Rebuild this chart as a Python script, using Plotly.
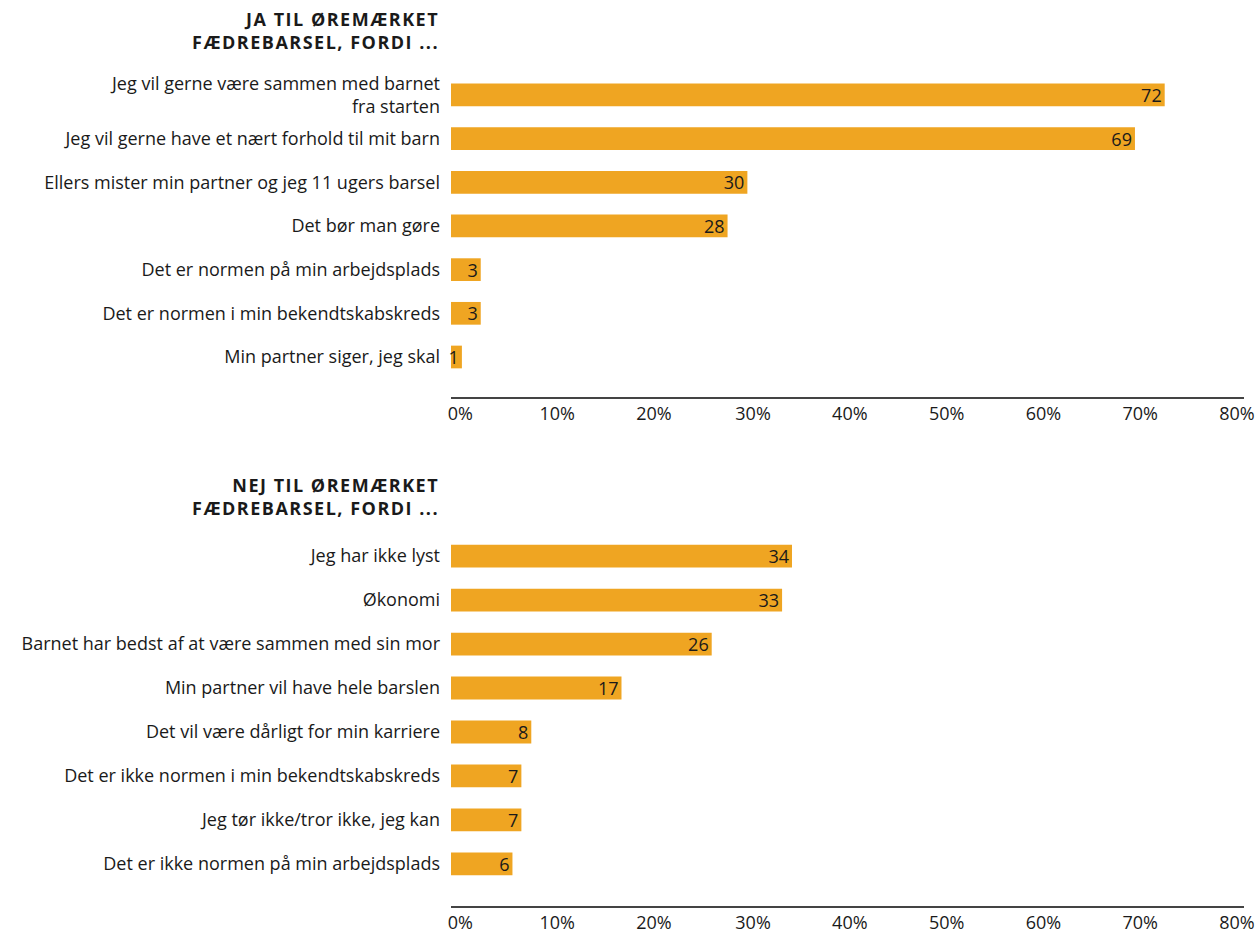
import plotly.graph_objects as go
from plotly.subplots import make_subplots

# top panel: "ja" reasons
ja_labels = [
    "Jeg vil gerne være sammen med barnet<br>fra starten",
    "Jeg vil gerne have et nært forhold til mit barn",
    "Ellers mister min partner og jeg 11 ugers barsel",
    "Det bør man gøre",
    "Det er normen på min arbejdsplads",
    "Det er normen i min bekendtskabskreds",
    "Min partner siger, jeg skal",
]
ja_values = [72.0, 69.0, 29.9, 27.9, 3.0, 3.0, 1.1]
ja_text = ["72", "69", "30", "28", "3", "3", "1"]

# bottom panel: "nej" reasons
nej_labels = [
    "Jeg har ikke lyst",
    "Økonomi",
    "Barnet har bedst af at være sammen med sin mor",
    "Min partner vil have hele barslen",
    "Det vil være dårligt for min karriere",
    "Det er ikke normen i min bekendtskabskreds",
    "Jeg tør ikke/tror ikke, jeg kan",
    "Det er ikke normen på min arbejdsplads",
]
nej_values = [34.4, 33.4, 26.3, 17.2, 8.1, 7.1, 7.1, 6.2]
nej_text = ["34", "33", "26", "17", "8", "7", "7", "6"]

x_ticks = [0, 10, 20, 30, 40, 50, 60, 70, 80]

ja_title = ["JA TIL ØREMÆRKET", "FÆDREBARSEL, FORDI ..."]
nej_title = ["NEJ TIL ØREMÆRKET", "FÆDREBARSEL, FORDI ..."]

ORANGE = "#EFA522"
TXT = "#1a1a1a"
FONT = "Open Sans"
W, H = 1255, 932
NBSP = "\u00a0"


def tick_label(v):
    # labels in the original drift a little right at 0% and left at 80%
    n = round((10 - 0.21 * v) * 2 / 4.7)
    s = f"{v}%"
    return NBSP * n + s if n > 0 else s + NBSP * (-n)


x_ticktext = [tick_label(v) for v in x_ticks]

fig = make_subplots(rows=2, cols=1)

for row, labels, values, text in [
    (1, ja_labels, ja_values, ja_text),
    (2, nej_labels, nej_values, nej_text),
]:
    fig.add_trace(
        go.Bar(
            x=values,
            y=labels,
            orientation="h",
            marker_color=ORANGE,
            marker_line_width=0,
            width=0.52,
            text=text,
            textposition="inside",
            insidetextanchor="end",
            textangle=0,
            textfont=dict(family=FONT, size=18, color=TXT),
            cliponaxis=False,
            showlegend=False,
            hoverinfo="skip",
        ),
        row=row, col=1,
    )

# pixel layout -> paper coords
def py(px):
    return 1 - px / H

xaxis_common = dict(
    range=[0, 80],
    tickvals=x_ticks,
    ticktext=x_ticktext,
    showgrid=False,
    zeroline=False,
    showline=True,
    linecolor="#444444",
    linewidth=1.5,
    ticks="",
    tickfont=dict(family=FONT, size=18, color=TXT),
    ticklabeloverflow="allow",
    automargin=False,
    fixedrange=True,
)
yaxis_common = dict(
    type="category",
    showgrid=False,
    zeroline=False,
    showline=False,
    ticks="",
    ticklabelstandoff=10,
    tickfont=dict(family=FONT, size=18, color=TXT),
    automargin=False,
    fixedrange=True,
)

fig.update_layout(
    xaxis=dict(xaxis_common, domain=[0, 1]),
    xaxis2=dict(xaxis_common, domain=[0, 1]),
    yaxis=dict(yaxis_common, range=[6.916, -0.5], domain=[py(397), py(73.1)]),
    yaxis2=dict(yaxis_common, range=[7.96, -0.5], domain=[py(906), py(534.2)]),
)

# section titles
for y_px, lines in [(31, ja_title), (497, nej_title)]:
    fig.add_annotation(
        text="<br>".join(f'<span style="letter-spacing:1.5px">{l}</span>' for l in lines),
        xref="paper", yref="paper",
        x=0, y=py(y_px),
        xanchor="right", yanchor="middle",
        xshift=-11,
        align="right",
        showarrow=False,
        borderpad=0,
        font=dict(family=FONT, size=18, color=TXT, weight="bold"),
    )

fig.update_layout(
    width=W,
    height=H,
    margin=dict(l=451, r=11, t=0, b=0),
    paper_bgcolor="white",
    plot_bgcolor="white",
    font=dict(family=FONT, color=TXT),
    uniformtext=dict(minsize=18, mode="show"),
)

fig.write_html(
    "out.html",
    config={"displayModeBar": False},
    post_script="document.body.style.margin='0';",
)
